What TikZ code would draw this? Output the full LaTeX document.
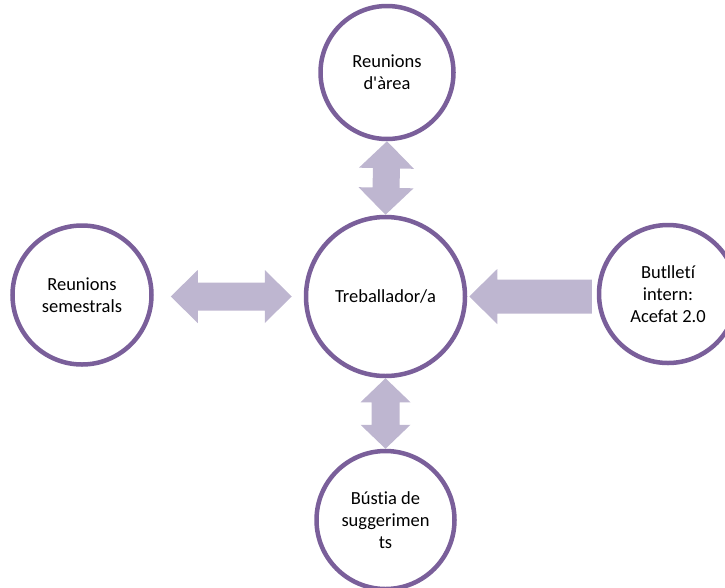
\documentclass[tikz,border=0pt]{standalone}
\usepackage{fontspec}
\setmainfont{Carlito}[Ligatures=NoCommon]
\usepackage{tikz}
\usetikzlibrary{calc}
\definecolor{ringpurple}{HTML}{7A5F9A}
\definecolor{arrowlilac}{HTML}{BEB6D0}

\tikzset{
  bubble/.style={circle, draw=ringpurple, line width=4.5pt, fill=white, inner sep=0pt,
    align=center, text=black, font=\fontsize{18.5}{22}\selectfont},
  fatarrow/.style={fill=arrowlilac}
}

% double arrow: from, to, shaft half, head half, head length
\newcommand\dblarrow[5]{%
  \fill[fatarrow] let \p1=(#1), \p2=(#2), \n1={atan2(\y2-\y1,\x2-\x1)}, \n2={veclen(\x2-\x1,\y2-\y1)/1pt} in
    [shift={(\p1)}, rotate=\n1]
    (0,0) -- (#5,#4) -- (#5,#3) -- (\n2-#5,#3) -- (\n2-#5,#4) -- (\n2,0)
    -- (\n2-#5,-#4) -- (\n2-#5,-#3) -- (#5,-#3) -- (#5,-#4) -- cycle;}
% single arrow: tail, tip, shaft half, head half, head length
\newcommand\onearrow[5]{%
  \fill[fatarrow] let \p1=(#1), \p2=(#2), \n1={atan2(\y2-\y1,\x2-\x1)}, \n2={veclen(\x2-\x1,\y2-\y1)/1pt} in
    [shift={(\p1)}, rotate=\n1]
    (0,#3) -- (\n2-#5,#3) -- (\n2-#5,#4) -- (\n2,0)
    -- (\n2-#5,-#4) -- (\n2-#5,-#3) -- (0,-#3) -- cycle;}

\begin{document}
\begin{tikzpicture}[x=1pt, y=-1pt]
  \useasboundingbox (0,0) rectangle (725,587);

  % Bubbles
  \node[bubble, minimum size=159pt] (worker) at (385.5,296.5) {Treballador/a};
  \node[bubble, minimum size=133pt] (area) at (387,72.5) {Reunions\\d\textquotesingle àrea};
  \node[bubble, minimum size=139pt] (semester) at (82,295) {Reunions\\semestrals};
  \node[bubble, minimum size=138pt] (bulletin) at (668,294) {Butlletí\\intern:\\Acefat 2.0};
  \node[bubble, minimum size=138pt] (mailbox) at (385.5,520) {Bústia de\\suggerimen\\ts};

  % Arrow ends, level with the worker
  \coordinate (semR) at ($(semester.east |- worker.west)+(17,0)$);
  \coordinate (wrkL) at ($(worker.west)+(-12,0)$);
  \coordinate (bulL) at ($(bulletin.west |- worker.east)+(-5,0)$);
  \coordinate (wrkR) at ($(worker.east)+(2,0)$);

  % Arrows
  \dblarrow{area.south}{worker.north}{13.5}{27.5}{27}
  \dblarrow{worker.south}{mailbox.north}{14}{25}{24}
  \dblarrow{semR}{wrkL}{14}{26.5}{27}
  \onearrow{bulL}{wrkR}{17}{27.5}{28}
\end{tikzpicture}
\end{document}
